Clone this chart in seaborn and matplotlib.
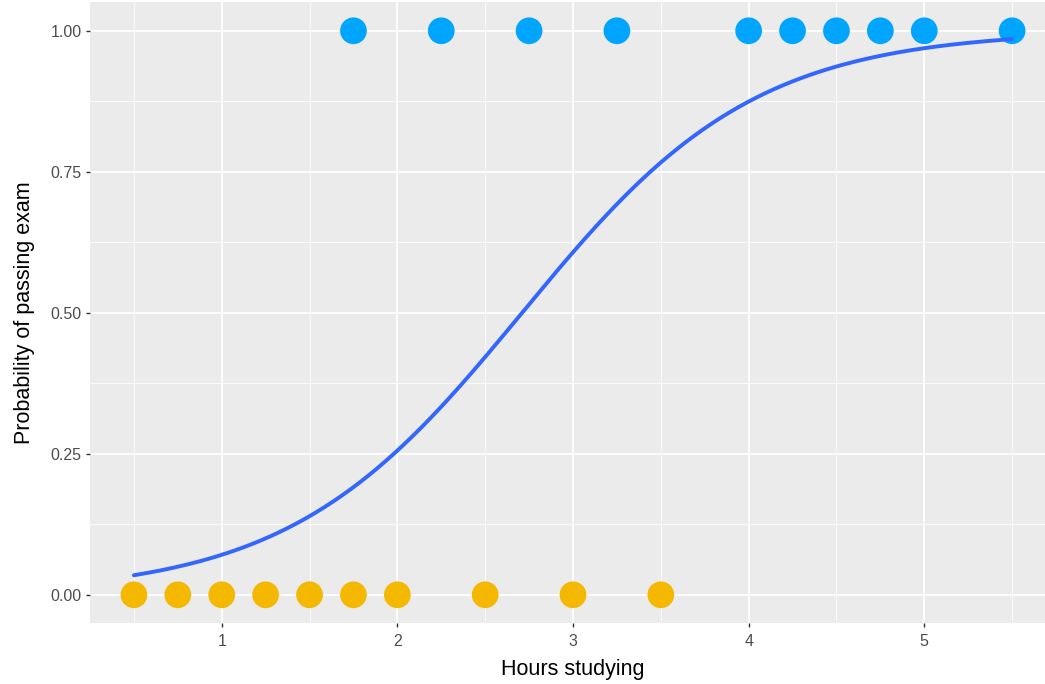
import matplotlib

matplotlib.use("Agg")
import matplotlib.pyplot as plt
import numpy as np
import pandas as pd
import seaborn as sns
from matplotlib.ticker import MultipleLocator

# hours studied and exam outcome (1 = pass, 0 = fail)
hours = [0.50, 0.75, 1.00, 1.25, 1.50, 1.75, 1.75, 2.00, 2.25, 2.50,
         2.75, 3.00, 3.25, 3.50, 4.00, 4.25, 4.50, 4.75, 5.00, 5.50]
passed = [0, 0, 0, 0, 0, 0, 1, 0, 1, 0,
          1, 0, 1, 0, 1, 1, 1, 1, 1, 1]
y_ticks = [0.00, 0.25, 0.50, 0.75, 1.00]
y_tick_labels = ["0.00", "0.25", "0.50", "0.75", "1.00"]
x_ticks = [1, 2, 3, 4, 5]

df = pd.DataFrame({"hours": hours, "passed": passed})


def fit_logistic(x: np.ndarray, y: np.ndarray, n_iter: int = 50) -> np.ndarray:
    """Plain IRLS fit of a binomial GLM with logit link."""
    X = np.column_stack([np.ones_like(x), x])
    beta = np.zeros(2)
    for _ in range(n_iter):
        p = 1 / (1 + np.exp(-X @ beta))
        w = p * (1 - p)
        grad = X.T @ (y - p)
        hess = X.T @ (X * w[:, None])
        beta = beta + np.linalg.solve(hess, grad)
    return beta


beta = fit_logistic(df["hours"].to_numpy(float), df["passed"].to_numpy(float))
grid_x = np.linspace(df["hours"].min(), df["hours"].max(), 200)
fit = pd.DataFrame({"hours": grid_x, "prob": 1 / (1 + np.exp(-(beta[0] + beta[1] * grid_x)))})

sns.set_theme(style="darkgrid")
plt.rcParams["font.family"] = ["Liberation Sans", "DejaVu Sans"]

fig = plt.figure(figsize=(10.45, 6.84), dpi=100)
# panel runs a little past the right edge of the canvas, as in the source
ax = fig.add_axes([90 / 1045, 61 / 684, 966 / 1045, 621 / 684])
ax.set_facecolor("#EBEBEB")

sns.lineplot(data=fit, x="hours", y="prob", color="#3366FF", linewidth=2.8, ax=ax, zorder=3)
sns.scatterplot(
    data=df,
    x="hours",
    y="passed",
    hue="passed",
    palette={0: "#F5B800", 1: "#00A5FF"},
    s=370,
    linewidth=0,
    legend=False,
    ax=ax,
    zorder=2,
)

ax.set_xlim(0.25, 5.75)
ax.set_ylim(-0.05, 1.051)
ax.set_xticks(x_ticks)
ax.set_yticks(y_ticks)
ax.set_yticklabels(y_tick_labels)
ax.xaxis.set_minor_locator(MultipleLocator(0.5))
ax.yaxis.set_minor_locator(MultipleLocator(0.125))
ax.grid(which="major", color="white", linewidth=1.3)
ax.grid(which="minor", color="white", linewidth=0.6)
ax.set_axisbelow(True)
for spine in ax.spines.values():
    spine.set_visible(False)
ax.tick_params(which="major", length=3, width=1, color="#333333", labelcolor="#4D4D4D",
               labelsize=11.5, bottom=True, left=True)
ax.tick_params(axis="x", pad=5)
ax.tick_params(axis="y", pad=3)
ax.tick_params(which="minor", length=0)
ax.set_xlabel("Hours studying", fontsize=15.5, color="black", labelpad=7)
ax.set_ylabel("Probability of passing exam", fontsize=15.5, color="black", labelpad=11)

fig.savefig("out.png", dpi=100, facecolor="white")
plt.close(fig)
